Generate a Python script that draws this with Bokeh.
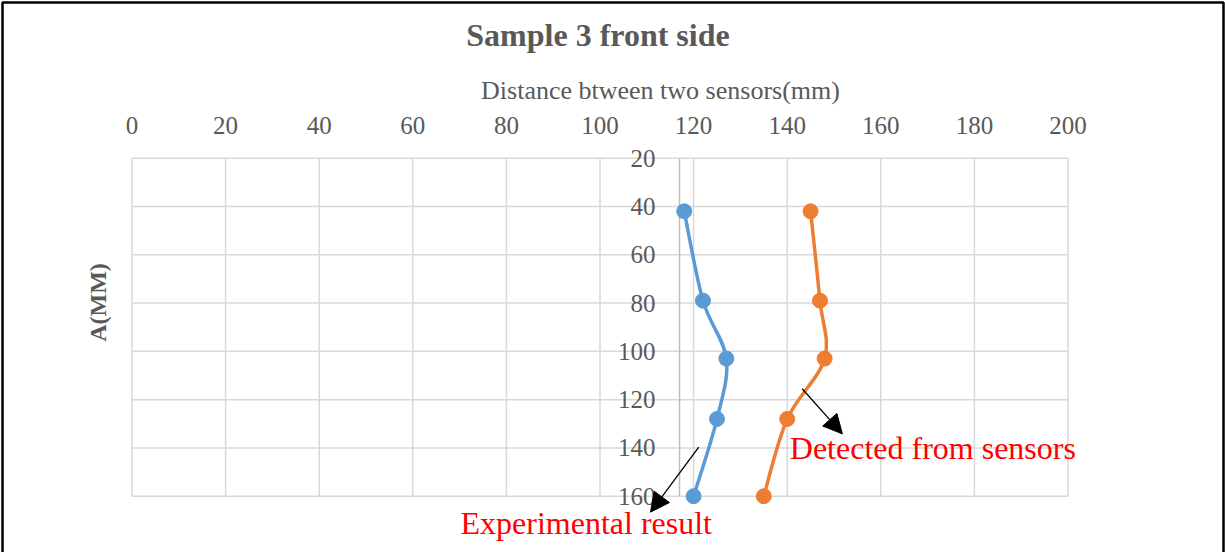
import numpy as np
from bokeh.plotting import figure
from bokeh.models import Range1d, Label, Arrow, NormalHead, PolyAnnotation
from bokeh.embed import file_html
from bokeh.resources import INLINE

# Depth along the sample (mm) and distance between the two sensors (mm)
depth_mm = [42, 79, 103, 128, 160]
experimental = [118, 122, 127, 125, 120]
detected = [145, 147, 148, 140, 135]
x_ticks = [0, 20, 40, 60, 80, 100, 120, 140, 160, 180, 200]
y_ticks = [20, 40, 60, 80, 100, 120, 140, 160]

SERIF = "Liberation Serif"
GRAY = "#595959"
GRID = "#d9d9d9"
BLUE = "#5B9BD5"
ORANGE = "#ED7D31"

# Canvas size and where the plot area sits inside it (pixels)
W, H = 1225, 552
AREA_LEFT, AREA_RIGHT, AREA_TOP, AREA_BOTTOM = 131.5, 1067.5, 157.7, 495.7
X_MIN, X_MAX = x_ticks[0], x_ticks[-1]
Y_MIN, Y_MAX = y_ticks[0], y_ticks[-1]
KX = (AREA_RIGHT - AREA_LEFT) / (X_MAX - X_MIN)
KY = (AREA_BOTTOM - AREA_TOP) / (Y_MAX - Y_MIN)


def dx(px):
    return X_MIN + (px - AREA_LEFT) / KX


def dy(py):
    return Y_MIN + (py - AREA_TOP) / KY


# The frame spans the whole canvas so that titles and callouts are not clipped
p = figure(
    width=W, height=H, output_backend="svg", toolbar_location=None,
    x_range=Range1d(dx(0), dx(W)), y_range=Range1d(dy(H), dy(0)),
    x_axis_location="above", title_location=None,
    min_border_left=0, min_border_right=0, min_border_top=0, min_border_bottom=0,
)
p.background_fill_color = "white"
p.border_fill_color = "white"
p.outline_line_color = None
p.grid.visible = False

# plot-area gridlines
p.segment(x0=x_ticks, y0=Y_MIN, x1=x_ticks, y1=Y_MAX,
          line_color=GRID, line_width=1.5, level="image")
p.segment(x0=X_MIN, y0=y_ticks, x1=X_MAX, y1=y_ticks,
          line_color=GRID, line_width=1.5, level="image")

# top axis: distance
xa = p.xaxis[0]
xa.ticker = x_ticks
xa.fixed_location = Y_MIN
xa.bounds = (X_MIN, X_MAX)
xa.axis_line_color = None
xa.major_tick_out = 0
xa.major_tick_in = 0
xa.minor_tick_out = 0
xa.minor_tick_in = 0
xa.major_label_standoff = 24
xa.major_label_text_font = SERIF
xa.major_label_text_font_size = "25px"
xa.major_label_text_color = GRAY

# vertical axis crossing the distance axis at 117
ya = p.yaxis[0]
ya.ticker = y_ticks
ya.fixed_location = 117
ya.bounds = (Y_MIN, Y_MAX)
ya.level = "underlay"
ya.axis_line_color = "#bfbfbf"
ya.axis_line_width = 1.5
ya.major_tick_out = 0
ya.major_tick_in = 0
ya.minor_tick_out = 0
ya.minor_tick_in = 0
ya.major_label_standoff = 24
ya.major_label_text_font = SERIF
ya.major_label_text_font_size = "25px"
ya.major_label_text_color = GRAY


def smooth_segments(xs, ys):
    """Cubic Bezier pieces through the points (Catmull-Rom style)."""
    x = np.asarray(xs, dtype=float)
    y = np.asarray(ys, dtype=float)
    n = len(x)
    xp = np.concatenate([[x[0]], x, [x[-1]]])
    yp = np.concatenate([[y[0]], y, [y[-1]]])
    return dict(
        x0=x[:-1], y0=y[:-1], x1=x[1:], y1=y[1:],
        cx0=x[:-1] + (xp[2:n + 1] - xp[0:n - 1]) / 6.0,
        cy0=y[:-1] + (yp[2:n + 1] - yp[0:n - 1]) / 6.0,
        cx1=x[1:] - (xp[3:n + 2] - xp[1:n]) / 6.0,
        cy1=y[1:] - (yp[3:n + 2] - yp[1:n]) / 6.0,
    )


for series, color in ((experimental, BLUE), (detected, ORANGE)):
    p.bezier(**smooth_segments(series, depth_mm), line_color=color, line_width=3.5)
    p.scatter(series, depth_mm, size=15, fill_color=color, line_color=color)

# chart title and axis titles
p.add_layout(Label(x=dx(597.5), y=dy(34.2), text="Sample 3 front side",
                   text_font=SERIF, text_font_style="bold", text_font_size="32px",
                   text_color=GRAY, text_align="center", text_baseline="middle"))
p.add_layout(Label(x=dx(660), y=dy(90), text="Distance btween two sensors(mm)",
                   text_font=SERIF, text_font_size="26px", text_color=GRAY,
                   text_align="center", text_baseline="middle"))
p.add_layout(Label(x=dx(97), y=dy(302), text="A(MM)", angle=np.pi / 2,
                   text_font=SERIF, text_font_style="bold", text_font_size="24px",
                   text_color=GRAY, text_align="center", text_baseline="middle"))

# callouts
p.add_layout(Arrow(end=NormalHead(size=19, fill_color="black", line_color="black"),
                   x_start=143.2, y_start=115.5, x_end=151.8, y_end=134.2,
                   line_color="black", line_width=1.3))
p.add_layout(Label(x=dx(789.3), y=dy(447.5), text="Detected from sensors",
                   text_font=SERIF, text_font_size="32px", text_color="#FF0000",
                   text_baseline="middle"))
p.add_layout(Arrow(end=NormalHead(size=19, fill_color="black", line_color="black"),
                   x_start=121.1, y_start=139.7, x_end=110.8, y_end=166.6,
                   line_color="black", line_width=1.3))
p.add_layout(Label(x=dx(460), y=dy(522.2), text="Experimental result",
                   text_font=SERIF, text_font_size="32px", text_color="#FF0000",
                   text_baseline="middle"))

# chart border (its bottom edge lies below the canvas)
bx = [dx(2), dx(2), dx(1223), dx(1223)]
by = [dy(H + 20), dy(2), dy(2), dy(H + 20)]
p.add_layout(PolyAnnotation(xs=bx, ys=by, fill_alpha=0, line_alpha=1,
                            line_color="black", line_width=2.5))

open("out.html", "w").write(file_html(p, INLINE))
